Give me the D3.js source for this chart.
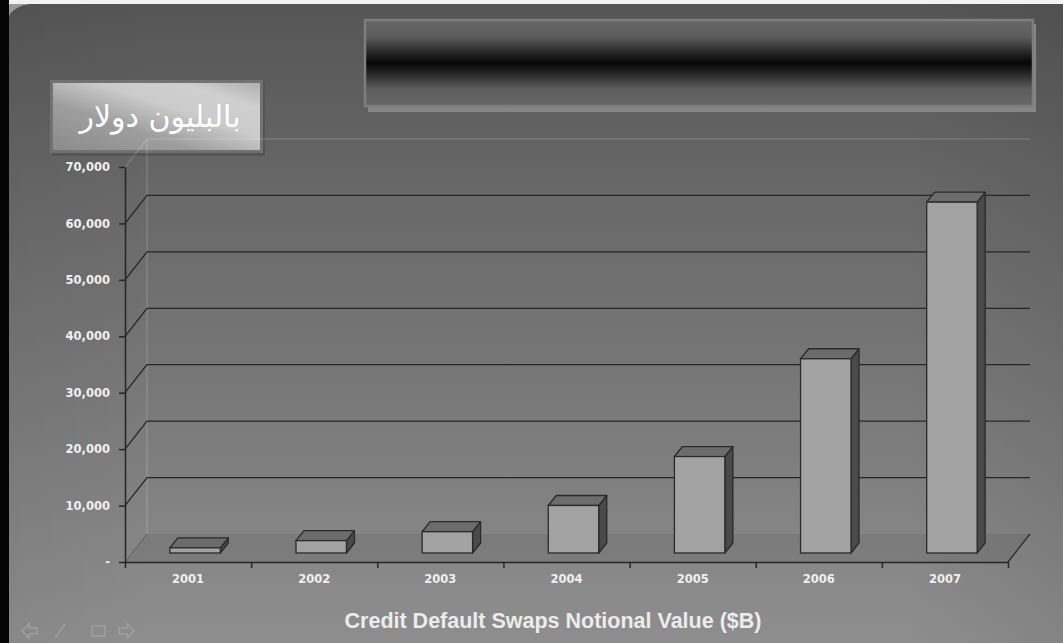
<!DOCTYPE html>
<html>
<head>
<meta charset="utf-8">
<script src="https://cdn.jsdelivr.net/npm/d3@7/dist/d3.min.js"></script>
<style>
  html, body { margin: 0; padding: 0; background: #777; }
  svg { display: block; }
</style>
</head>
<body>
<svg id="chart" width="1063" height="643"></svg>
<script>
// Credit default swaps notional value, billions of dollars
const years = ["2001", "2002", "2003", "2004", "2005", "2006", "2007"];
const notional = [919, 2192, 3779, 8422, 17096, 34423, 62173];
const yTicks = [0, 10000, 20000, 30000, 40000, 50000, 60000, 70000];
const unitLabel = "بالبليون دولار";
const axisTitle = "Credit Default Swaps Notional Value ($B)";

const W = 1063, H = 643;
const svg = d3.select("#chart");
const defs = svg.append("defs");

// plot geometry (oblique 3D box)
const X0 = 125, X1 = 1008, YB = 562, YT = 167;
const DX = 22, DY = -28;          // depth of the floor / back wall
const BFX = 7, BFY = -9;          // bar front plane offset
const BDX = 8, BDY = -10;         // bar depth

const y = d3.scaleLinear().domain([0, 70000]).range([YB, YT]);
const xb = d3.scaleBand().domain(years).range([X0, X1]).paddingInner(0.6).paddingOuter(0.3);
const xi = d3.scaleLinear().domain([0, years.length]).range([X0, X1]);

// ---- background: dark at the top, lighter towards the bottom ----
const bg = defs.append("linearGradient").attr("id", "bg").attr("x1", 0).attr("y1", 0).attr("x2", 0).attr("y2", 1);
[[0, "#555555"], [0.3, "#686868"], [0.6, "#787878"], [1, "#8e8e8e"]]
  .forEach(([o, c]) => bg.append("stop").attr("offset", o).attr("stop-color", c));
svg.append("rect").attr("width", W).attr("height", H).attr("fill", "url(#bg)");
const shade = defs.append("linearGradient").attr("id", "shade").attr("x1", 0).attr("y1", 0).attr("x2", 1).attr("y2", 0);
[[0, "rgba(0,0,0,0.04)"], [0.15, "rgba(0,0,0,0)"], [0.85, "rgba(0,0,0,0)"], [1, "rgba(0,0,0,0.07)"]]
  .forEach(([o, c]) => shade.append("stop").attr("offset", o).attr("stop-color", c));
svg.append("rect").attr("width", W).attr("height", H).attr("fill", "url(#shade)");

// frame edges
svg.append("rect").attr("x", 0).attr("y", 0).attr("width", W).attr("height", 4).attr("fill", "#f2f2f2");
svg.append("rect").attr("x", 0).attr("y", 0).attr("width", 9).attr("height", H).attr("fill", "#050505");
svg.append("path").attr("d", "M9,4 L30,4 Q14,6 9,16 Z").attr("fill", "#9a9a9a");

// ---- banner box ----
const ban = defs.append("linearGradient").attr("id", "banner").attr("x1", 0).attr("y1", 0).attr("x2", 0).attr("y2", 1);
[[0, "#686868"], [0.2, "#5c5c5c"], [0.38, "#262626"], [0.5, "#060606"], [0.62, "#262626"], [0.8, "#5c5c5c"], [1, "#686868"]]
  .forEach(([o, c]) => ban.append("stop").attr("offset", o).attr("stop-color", c));
svg.append("rect").attr("x", 368).attr("y", 24).attr("width", 668).attr("height", 88).attr("fill", "#868686");
svg.append("rect").attr("x", 365).attr("y", 20).attr("width", 668).attr("height", 86)
  .attr("fill", "url(#banner)").attr("stroke", "#7e7e7e").attr("stroke-width", 2.5);

// ---- unit label box ----
const lab = defs.append("linearGradient").attr("id", "labelbox").attr("x1", 0).attr("y1", 1).attr("x2", 1).attr("y2", 0);
[[0, "#8a8a8a"], [0.35, "#9e9e9e"], [0.6, "#cbcbcb"], [0.8, "#cfcfcf"], [1, "#acacac"]]
  .forEach(([o, c]) => lab.append("stop").attr("offset", o).attr("stop-color", c));
svg.append("rect").attr("x", 52).attr("y", 82).attr("width", 213).attr("height", 74).attr("fill", "#555555");
svg.append("rect").attr("x", 51.5).attr("y", 81.5).attr("width", 210).attr("height", 70)
  .attr("fill", "url(#labelbox)").attr("stroke", "#727272").attr("stroke-width", 3);
svg.append("text").attr("x", 160).attr("y", 127).attr("text-anchor", "middle")
  .attr("direction", "rtl")
  .attr("font-family", "'DejaVu Sans', sans-serif").attr("font-size", 30)
  .attr("fill", "#ffffff").text(unitLabel);

// ---- floor and back wall ----
const g = svg.append("g");
g.append("path")
  .attr("d", `M${X0},${YB} L${X1},${YB} L${X1 + DX},${YB + DY} L${X0 + DX},${YB + DY} Z`)
  .attr("fill", "rgba(0,0,0,0.07)");
g.append("path")
  .attr("d", `M${X0 + DX},${YB + DY} L${X0 + DX},${YT + DY} L${X1 + DX},${YT + DY} M${X0},${YT} L${X0 + DX},${YT + DY}`)
  .attr("fill", "none").attr("stroke", "rgba(255,255,255,0.14)").attr("stroke-width", 1.5);

// gridlines along the back wall
g.selectAll("path.grid").data(yTicks.filter(v => v > 0 && v < 70000)).join("path")
  .attr("class", "grid")
  .attr("d", v => `M${X0},${y(v)} L${X0 + DX},${y(v) + DY} L${X1 + DX},${y(v) + DY}`)
  .attr("fill", "none").attr("stroke", "#262626").attr("stroke-width", 1.3);

// floor edges
g.append("path").attr("d", `M${X1},${YB} L${X1 + DX},${YB + DY}`)
  .attr("stroke", "#2a2a2a").attr("stroke-width", 1.3);
g.append("path").attr("d", `M${X0},${YB} L${X0 + DX},${YB + DY}`)
  .attr("stroke", "rgba(0,0,0,0.25)").attr("stroke-width", 1);

// ---- axes ----
const yAxis = d3.axisLeft(y).tickValues(yTicks).tickSize(6).tickSizeOuter(0).tickPadding(9)
  .tickFormat(v => v === 0 ? "-" : d3.format(",")(v));
const ya = svg.append("g").attr("transform", `translate(${X0},0)`).call(yAxis);
ya.select(".domain").attr("stroke", "#262626").attr("stroke-width", 1.5);
ya.selectAll(".tick line").attr("stroke", "#262626").attr("stroke-width", 1.5);
ya.selectAll(".tick text").attr("fill", "#f0f0f0")
  .attr("font-family", "'DejaVu Sans', sans-serif").attr("font-weight", "bold").attr("font-size", 11.5);

const xAxis = d3.axisBottom(xi).tickValues(d3.range(years.length + 1)).tickSize(6).tickSizeOuter(0).tickFormat("");
const xa = svg.append("g").attr("transform", `translate(0,${YB})`).call(xAxis);
xa.select(".domain").attr("stroke", "#262626").attr("stroke-width", 1.5);
xa.selectAll(".tick line").attr("stroke", "#262626").attr("stroke-width", 1.5);

svg.append("g").selectAll("text").data(years).join("text")
  .attr("x", d => xb(d) + xb.bandwidth() / 2)
  .attr("y", 583)
  .attr("text-anchor", "middle")
  .attr("fill", "#f0f0f0")
  .attr("font-family", "'DejaVu Sans', sans-serif").attr("font-weight", "bold").attr("font-size", 11.5)
  .text(d => d);

// ---- 3D bars ----
const bars = svg.append("g").selectAll("g").data(years.map((d, i) => ({ year: d, v: notional[i] }))).join("g");
const bw = xb.bandwidth();
bars.each(function (d) {
  const gb = d3.select(this);
  const xl = xb(d.year) + BFX, xr = xl + bw;
  const yb = YB + BFY, yt = y(d.v) + BFY;
  gb.append("path")
    .attr("d", `M${xr},${yt} L${xr + BDX},${yt + BDY} L${xr + BDX},${yb + BDY} L${xr},${yb} Z`)
    .attr("fill", "#4a4a4a").attr("stroke", "#2a2a2a").attr("stroke-width", 1.3).attr("stroke-linejoin", "round");
  gb.append("path")
    .attr("d", `M${xl},${yt} L${xl + BDX},${yt + BDY} L${xr + BDX},${yt + BDY} L${xr},${yt} Z`)
    .attr("fill", "#6c6c6c").attr("stroke", "#2a2a2a").attr("stroke-width", 1.3).attr("stroke-linejoin", "round");
  gb.append("rect")
    .attr("x", xl).attr("y", yt).attr("width", bw).attr("height", yb - yt)
    .attr("fill", "#a2a2a2").attr("stroke", "#2a2a2a").attr("stroke-width", 1.3);
});

// ---- axis title ----
svg.append("text").attr("x", 553).attr("y", 628).attr("text-anchor", "middle")
  .attr("fill", "#ececec")
  .attr("font-family", "'Liberation Sans', Arial, sans-serif").attr("font-weight", "bold").attr("font-size", 21.5)
  .text(axisTitle);

// ---- slide navigation glyphs ----
const nav = svg.append("g").attr("fill", "none").attr("stroke", "#a4a4a4").attr("stroke-width", 1.6).attr("opacity", 0.8);
nav.append("path").attr("d", "M22,631 L29,624 L29,628 L37,628 L37,634 L29,634 L29,638 Z");
nav.append("path").attr("d", "M55,638 L65,624");
nav.append("rect").attr("x", 92).attr("y", 626).attr("width", 13).attr("height", 10);
nav.append("path").attr("d", "M134,631 L127,624 L127,628 L119,628 L119,634 L127,634 L127,638 Z");
</script>
</body>
</html>
